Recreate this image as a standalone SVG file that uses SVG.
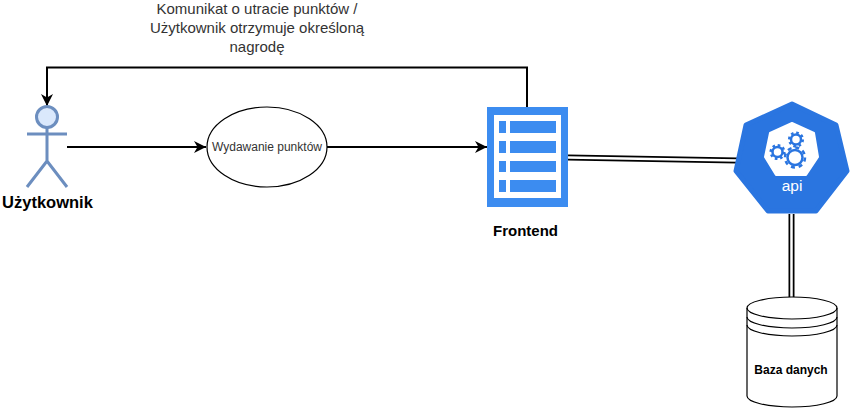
<svg xmlns="http://www.w3.org/2000/svg" width="862" height="408" viewBox="0 0 862 408">
<style>
text{font-family:"Liberation Sans",Arial,sans-serif;text-anchor:middle}
.c{fill:none;stroke:#000;stroke-width:2}
.o{fill:none;stroke:#000;stroke-width:6}
.i{fill:none;stroke:#fff;stroke-width:2.500}
.a{fill:none;stroke:#6c8ebf;stroke-width:3}
.b{fill:#3c8cf0}
.g{fill:#fff;stroke:#2a75e0;stroke-width:2.500}
.t{fill:none;stroke:#2a75e0;stroke-width:2.500}
.d{fill:#fff;stroke:#000;stroke-width:1.2}
.l{fill:none;stroke:#000;stroke-width:1.2}
</style>
<defs>
<marker id="h" markerUnits="userSpaceOnUse" markerWidth="14" markerHeight="14" refX="12" refY="7" orient="auto"><path d="M0 1 L12 7 L0 13 L3.5 7 Z" fill="#000"/></marker>
</defs>
<g id="connectors">
<path class="c" d="M67 147H206" marker-end="url(#h)"/>
<path class="c" d="M327 147H487" marker-end="url(#h)"/>
<path class="c" d="M527 107V67.500H47V106" marker-end="url(#h)"/>
<path class="o" d="M568 157.500L737 160.500"/><path class="i" d="M568 157.500L737 160.500"/>
<path class="o" d="M791.500 214V298"/><path class="i" d="M791.500 214V298"/>
</g>
<g id="label"><text font-size="15" fill="#333"><tspan x="257" y="14">Komunikat o utracie punktów /</tspan><tspan x="257" y="33">Użytkownik otrzymuje określoną</tspan><tspan x="257" y="52">nagrodę</tspan></text></g>
<g id="uzytkownik">
<circle cx="47" cy="117" r="10.500" fill="#dae8fc" stroke="#6c8ebf" stroke-width="3"/>
<path class="a" d="M47 128V161M27 134H67M27 187L47 161L67 187"/>
<text x="47.500" y="208" font-size="16.500" font-weight="bold" fill="#000">Użytkownik</text>
</g>
<g id="wydawanie">
<ellipse cx="267" cy="147" rx="60" ry="40" fill="#fff" stroke="#000" stroke-width="1.2"/>
<text x="267" y="151" font-size="12" fill="#333">Wydawanie punktów</text>
</g>
<g id="frontend">
<rect class="b" x="487" y="107" width="81" height="100"/>
<rect x="494" y="115" width="67" height="83" fill="#fff"/>
<rect class="b" x="499" y="121" width="7" height="12"/><rect class="b" x="510" y="121" width="46" height="12"/>
<rect class="b" x="499" y="141" width="7" height="12"/><rect class="b" x="510" y="141" width="46" height="12"/>
<rect class="b" x="499" y="161" width="7" height="11"/><rect class="b" x="510" y="161" width="46" height="11"/>
<rect class="b" x="499" y="180" width="7" height="12"/><rect class="b" x="510" y="180" width="46" height="12"/>
<text x="525.500" y="236" font-size="15" font-weight="bold" fill="#000">Frontend</text>
</g>
<g id="api">
<polygon points="792,104 836,125 847,171 816,211 768,211 736,171 746,125" fill="#2a75e0" stroke="#2a75e0" stroke-width="5" stroke-linejoin="round"/>
<polygon points="792,123 814,133 818,157 806,175 776,175 765,157 770,133" fill="#fff" stroke="#fff" stroke-width="2" stroke-linejoin="round"/>
<circle class="g" cx="777.500" cy="152" r="5"/><circle class="t" cx="777.500" cy="152" r="6.800" stroke-dasharray="2.600 2.740"/>
<circle class="g" cx="796" cy="139.500" r="5"/><circle class="t" cx="796" cy="139.500" r="6.800" stroke-dasharray="2.600 2.740"/>
<circle class="g" cx="795" cy="157.500" r="7.500"/><circle class="t" cx="795" cy="157.500" r="10" stroke-dasharray="4 3.850"/>
<text x="792" y="191" font-size="15.500" fill="#fff">api</text>
</g>
<g id="baza">
<path class="d" d="M747 308C747 302 767 297 792 297C817 297 837 302 837 308V396C837 402 817 407 792 407C767 407 747 402 747 396Z"/>
<path class="l" d="M747 308C747 314 767 319 792 319C817 319 837 314 837 308M747 317C747 323 767 328 792 328C817 328 837 323 837 317M747 325C747 331 767 336 792 336C817 336 837 331 837 325"/>
<text x="791" y="374" font-size="12" font-weight="bold" fill="#000">Baza danych</text>
</g>
</svg>
